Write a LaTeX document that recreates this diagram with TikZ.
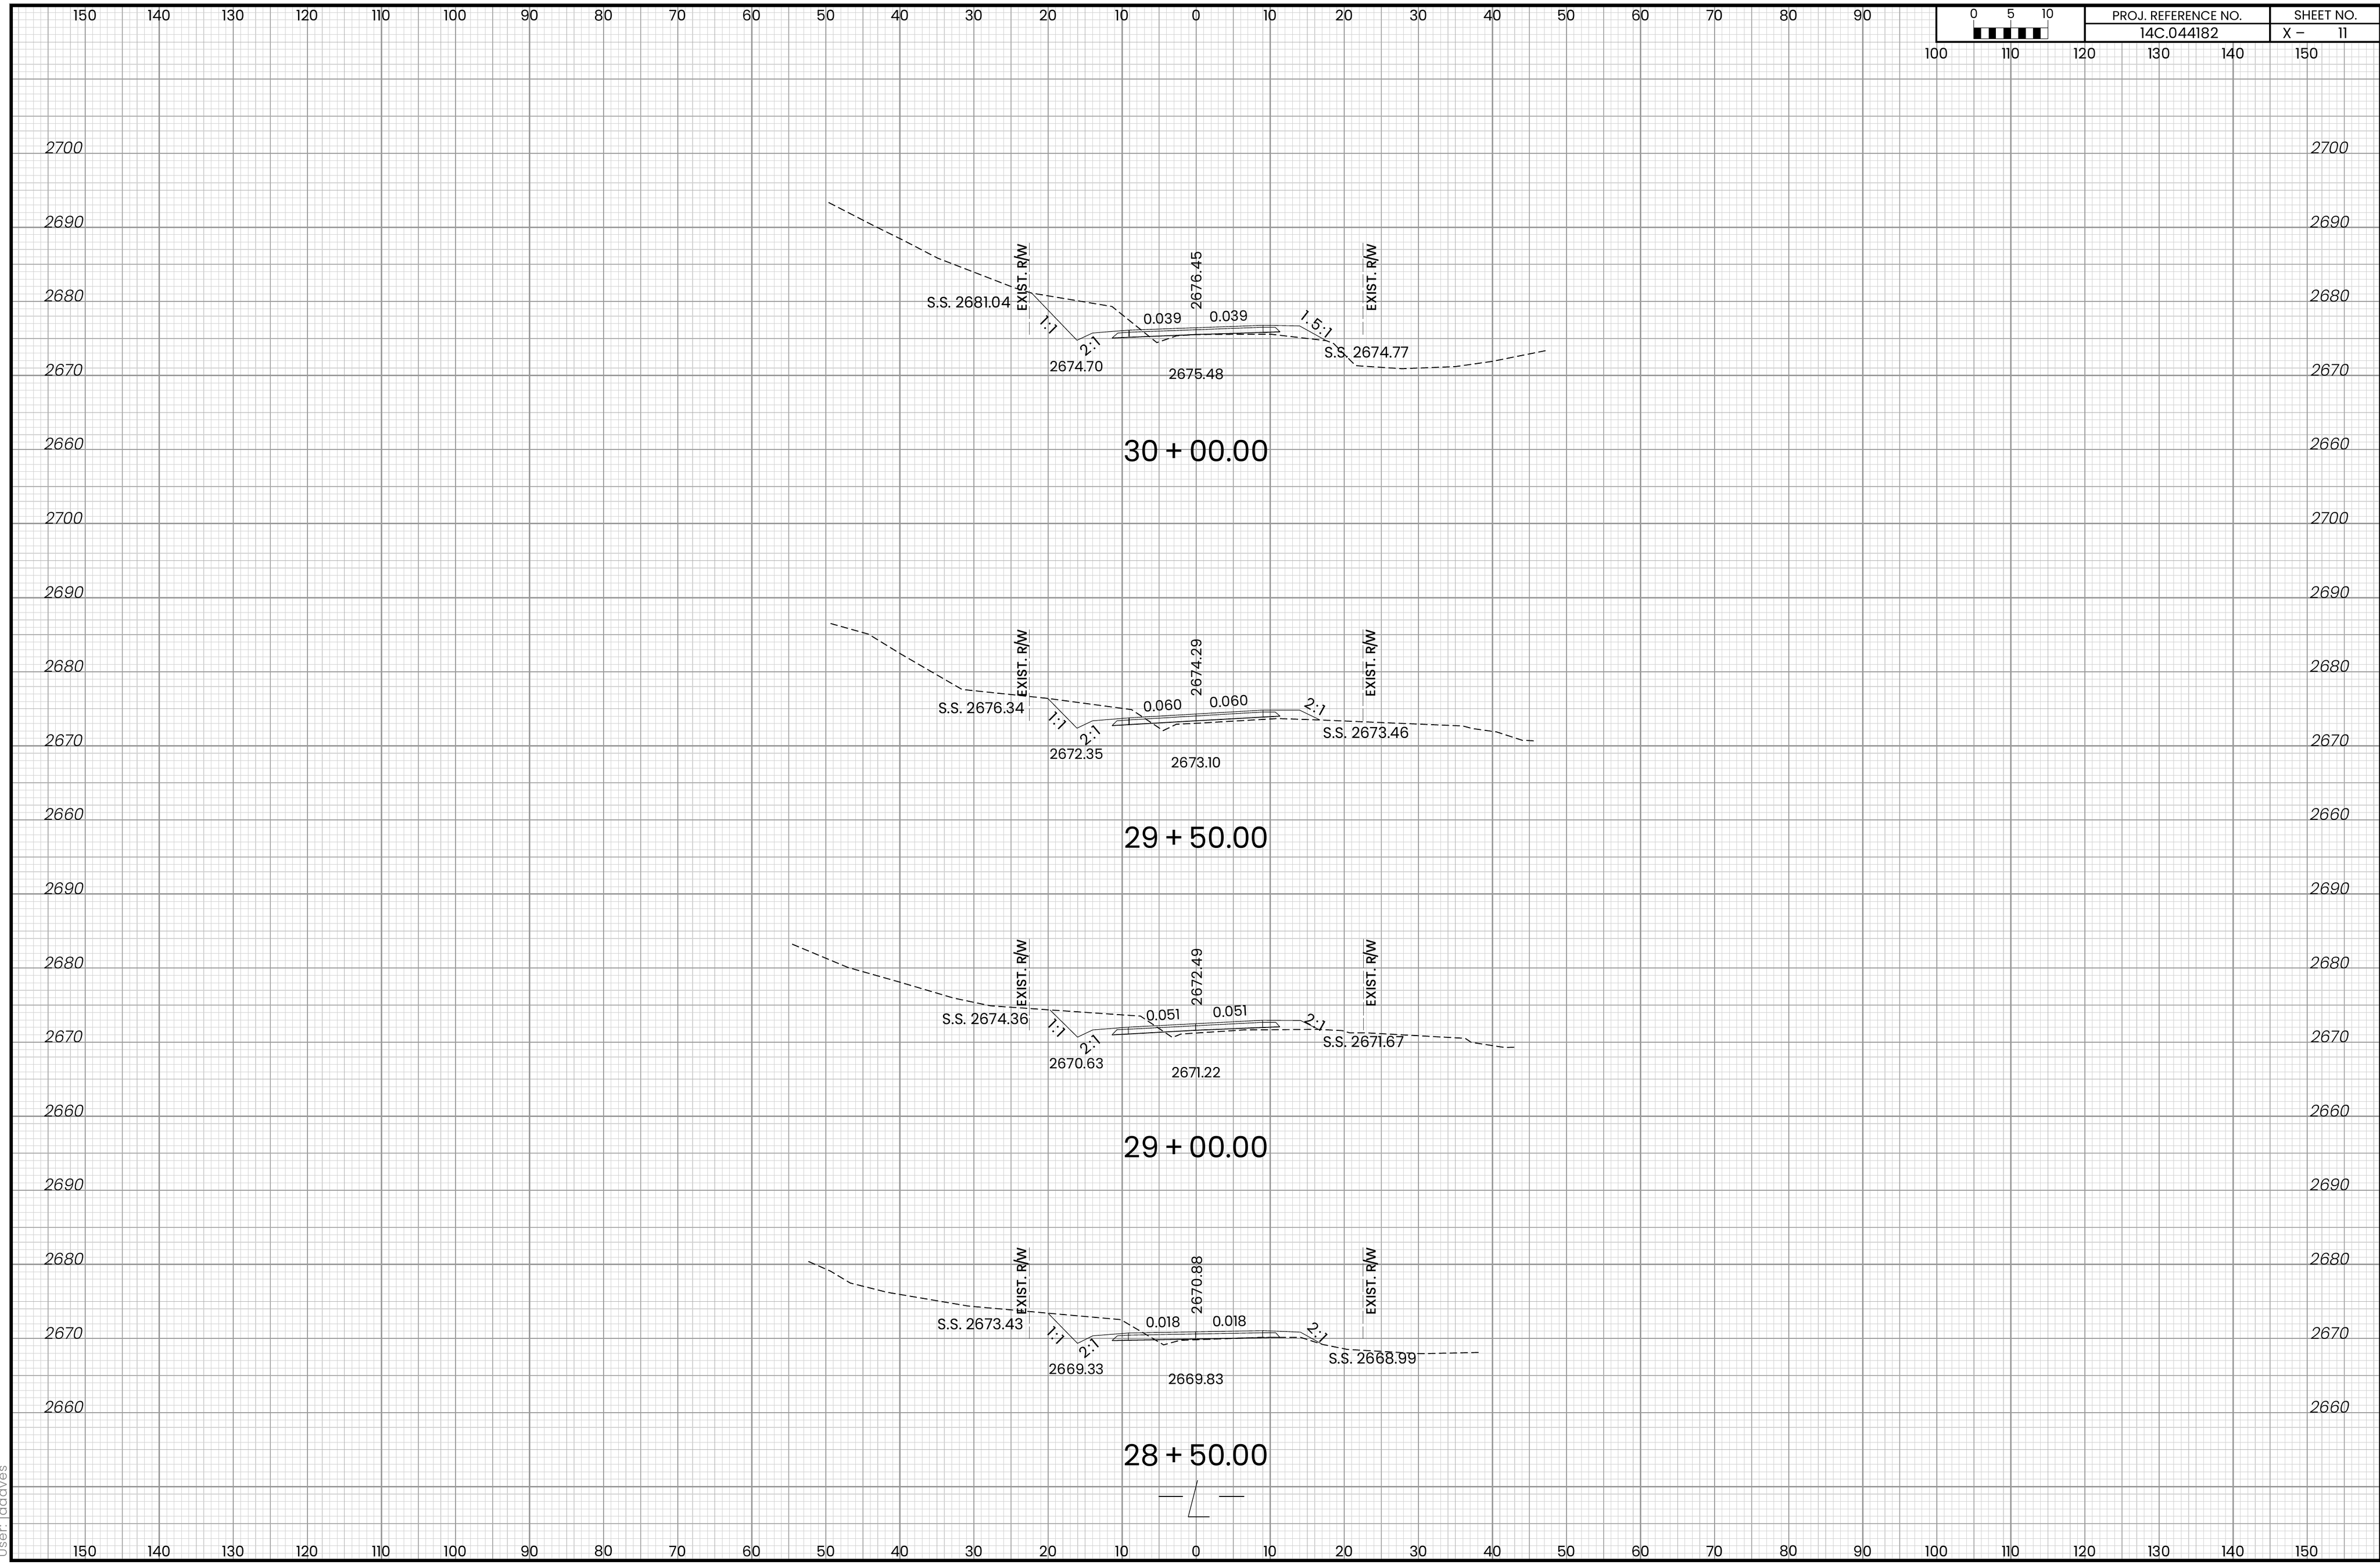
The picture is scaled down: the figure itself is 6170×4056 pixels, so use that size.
\documentclass[tikz,border=0pt]{standalone}
\usepackage{fontspec}
\setmainfont{Poppins}
\newfontfamily\spacedfont{Poppins Medium}
\newfontfamily\elevfont[LetterSpace=4]{Poppins}
\newfontfamily\lightit[FakeSlant=0.2]{Poppins Light}
\newfontfamily\lightfont[LetterSpace=5]{Poppins Light}
\newfontfamily\slopefont[LetterSpace=14]{Poppins}
\newcommand{\rwtext}{EXIST.\ R\kern-0.5pt/\kern-0.5pt W}
\tikzset{
  minorgrid/.style={draw=black!18,line width=0.14pt},
  medgrid/.style={draw=black!33,line width=0.2pt},
  thickgrid/.style={draw=black!40,line width=0.3pt},
  frameline/.style={draw=black,line width=0.9pt},
  blockline/.style={draw=black,line width=0.45pt},
  ground/.style={draw=black,line width=0.24pt,dash pattern=on 1.9pt off 0.9pt},
  proposed/.style={draw=black,line width=0.14pt,line join=round},
  pavebase/.style={draw=black,line width=0.22pt},
  rwline/.style={draw=black!70,line width=0.1pt,dash pattern=on 3.4pt off 0.7pt},
  axislbl/.style={inner sep=0pt,font=\fontsize{3.8}{4}\selectfont},
  elevlbl/.style={inner sep=0pt,font=\lightit\fontsize{4.2}{5}\selectfont,anchor=base},
  dimlbl/.style={inner sep=0pt,font=\fontsize{3.7}{4}\selectfont},
  sslbl/.style={inner sep=0pt,font=\fontsize{3.95}{4}\selectfont},
  slopelbl/.style={inner sep=0pt,font=\slopefont\fontsize{3.9}{4}\selectfont},
  rwlbl/.style={inner sep=0pt,rotate=90,font=\spacedfont\fontsize{3.5}{4}\selectfont},
  cllbl/.style={inner sep=0pt,rotate=90,font=\elevfont\fontsize{3.7}{4}\selectfont},
  stalbl/.style={inner sep=0pt,font=\fontsize{7.6}{9}\selectfont},
  blocklbl/.style={inner sep=0pt,font=\fontsize{3.3}{4}\selectfont},
  blockbig/.style={inner sep=0pt,font=\fontsize{3.8}{4}\selectfont},
}
\begin{document}
\begin{tikzpicture}[x=0.1pt,y=-0.1pt]
\useasboundingbox (0,0) rectangle (6170,4056);
% --- grid
\begin{scope}
\clip (29,13) rectangle (6168,4045);
\foreach \k in {1,...,210}{\draw[minorgrid] (29,{13+19.2*\k}) -- (6170,{13+19.2*\k});}
\foreach \i in {-160,...,160}{\draw[minorgrid] ({3101+19.2*\i},13) -- ({3101+19.2*\i},4045);}
\foreach \k in {0,10,...,210}{\draw[medgrid] (29,{13+19.2*(\k+5)}) -- (6170,{13+19.2*(\k+5)});}
\foreach \i in {-155,-145,...,155}{\draw[medgrid] ({3101+19.2*\i},13) -- ({3101+19.2*\i},4045);}
\foreach \k in {0,10,...,210}{\draw[thickgrid] (29,{13+19.2*\k}) -- (6170,{13+19.2*\k});}
\foreach \i in {-160,-150,...,160}{\draw[thickgrid] ({3101+19.2*\i},13) -- ({3101+19.2*\i},4045);}
\end{scope}
% --- frame
\draw[frameline] (6170,4044.5) -- (29,4044.5) -- (29,13.5) -- (6170,13.5);
\fill[black] (6168,9) rectangle (6170,4049);
\draw[draw=black!40,line width=0.08pt] (24,8.5) -- (6170,8.5);
% --- top and bottom axis numbers
\foreach \v/\u in {150/-150,140/-140,130/-130,120/-120,110/-110,100/-100,90/-90,80/-80,70/-70,60/-60,50/-50,40/-40,30/-30,20/-20,10/-10,0/0,10/10,20/20,30/30,40/40,50/50,60/60,70/70,80/80,90/90}
  {\node[axislbl] (top\u) at ({3101+19.2*\u},40) {\v};}
\foreach \v/\u in {100/100,110/110,120/120,130/130,140/140,150/150}
  {\node[axislbl] (top\u) at ({3101+19.2*\u},138) {\v};}
\foreach \v/\u in {150/-150,140/-140,130/-130,120/-120,110/-110,100/-100,90/-90,80/-80,70/-70,60/-60,50/-50,40/-40,30/-30,20/-20,10/-10,0/0,10/10,20/20,30/30,40/40,50/50,60/60,70/70,80/80,90/90,100/100,110/110,120/120,130/130,140/140,150/150}
  {\node[axislbl] (bot\u) at ({3101+19.2*\u},4020) {\v};}
% --- elevation numbers
\foreach \v/\y in {2700/397,2690/589,2680/781,2670/973,2660/1165,2700/1357,2690/1549,2680/1741,2670/1933,2660/2125,2690/2317,2680/2509,2670/2701,2660/2893,2690/3085,2680/3277,2670/3469,2660/3661}{
  \node[elevlbl] (l\y) at (164,\y+1) {\v};
  \node[elevlbl] (r\y) at (6038,\y+1) {\v};
}
% --- title block
\fill[white] (5019.5,18) rectangle (6168,108);
\draw[blockline] (5019.5,13) -- (5019.5,108.5) -- (6168,108.5);
\draw[blockline] (5405,13) -- (5405,108.5);
\draw[blockline] (5885,13) -- (5885,108.5);
\draw[blockline] (5405,61) -- (6168,61);
\node[blocklbl] (s0) at (5117,36) {0};
\node[blocklbl] (s5) at (5213,36) {5};
\node[blocklbl] (s10) at (5309,36) {10};
\draw[proposed,line width=0.1pt] (5117,52) -- (5117,100) (5213,52) -- (5213,100) (5309,52) -- (5309,100);
\draw[proposed,line width=0.1pt] (5117,72) rectangle (5309,100);
\foreach \c in {0,2,4,6,8}{\fill[black] ({5117+19.2*\c},72) rectangle ({5117+19.2*(\c+1)},100);}
\node[blocklbl] (projhead) at (5644,41) {PROJ. REFERENCE NO.};
\node[blocklbl,font=\fontsize{3.4}{4}\selectfont] (sheethead) at (6029,39) {SHEET NO.};
\node[blockbig] (projno) at (5650,86) {14C.044182};
\node[blockbig,anchor=west] (sheetx) at (5915,86) {X --};
\node[blockbig,anchor=west] (sheetno) at (6060,86) {11};
% --- user stamp
\node[inner sep=0pt,rotate=90,text=black!50,font=\lightfont\fontsize{3.3}{4}\selectfont] (user) at (10,3917) {User: jddaves};
% ================ Section 30+00
\begin{scope}[shift={(2100,480)},xscale=1/0.792,yscale=1/2.01]
\draw[ground] (38,90) -- (130,210) -- (190,285) -- (262,380) -- (420,535) -- (455,562) -- (620,632) -- (712,820) -- (752,785) -- (790,778) -- (945,776) -- (1060,810) -- (1075,825) -- (1120,940) -- (1215,956) -- (1325,945) -- (1400,918) -- (1510,862);
\draw[proposed] (455,562) -- (548,808) -- (580,770) -- (655,755) -- (930,730) -- (1005,733) -- (1060,810);
\draw[pavebase] (620,796) -- (792,778) -- (965,764);
\draw[proposed] (620,796) -- (632,770) -- (655,766) -- (930,740) -- (955,740) -- (965,764);
\draw[proposed] (655,755) -- (655,790) (792,745) -- (792,778) (930,730) -- (930,765);
\draw[rwline] (450,300) -- (450,778) (1135,300) -- (1135,778);
\node[rwlbl] (a1) at (435,480) {\rwtext};
\node[rwlbl] (a2) at (1152,480) {\rwtext};
\node[cllbl] (a3) at (793,497) {2676.45};
\node[sslbl] (a4) at (326,610) {S.S. 2681.04};
\node[sslbl] (a5) at (1143,870) {S.S. 2674.77};
\node[dimlbl] (a6) at (547,945) {2674.70};
\node[dimlbl] (a7) at (793,985) {2675.48};
\node[dimlbl,rotate=2] (a8) at (724,695) {0.039};
\node[dimlbl,rotate=2] (a9) at (860,682) {0.039};
\node[slopelbl,rotate=-45] (a10) at (490,728) {1:1};
\node[slopelbl,rotate=40] (a11) at (575,838) {2:1};
\node[slopelbl,rotate=-38] (a12) at (1040,725) {1.5:1};
\node[stalbl] (a13) at (793,1385) {30\,+\,00.00};
\end{scope}
% ================ Section 29+50
\begin{scope}[shift={(2100,1540)},xscale=1/0.792,yscale=1/2.24]
\draw[ground] (42,170) -- (120,232) -- (185,345) -- (312,553) -- (488,605) -- (660,670) -- (725,792) -- (752,755) -- (790,750) -- (960,722) -- (1045,730) -- (1340,765) -- (1360,780) -- (1410,800) -- (1462,848) -- (1486,851);
\draw[proposed] (488,605) -- (548,778) -- (580,735) -- (655,718) -- (930,673) -- (1005,673) -- (1047,730);
\draw[pavebase] (620,763) -- (792,735) -- (965,708);
\draw[proposed] (620,763) -- (630,735) -- (655,730) -- (930,684) -- (955,684) -- (965,708);
\draw[proposed] (655,718) -- (655,758) (792,695) -- (792,735) (930,673) -- (930,710);
\draw[rwline] (450,205) -- (450,735) (1135,205) -- (1135,735);
\node[rwlbl] (b1) at (435,400) {\rwtext};
\node[rwlbl] (b2) at (1150,400) {\rwtext};
\node[cllbl] (b3) at (793,425) {2674.29};
\node[sslbl] (b4) at (352,660) {S.S. 2676.34};
\node[sslbl] (b5) at (1142,805) {S.S. 2673.46};
\node[dimlbl] (b6) at (547,928) {2672.35};
\node[dimlbl] (b7) at (793,976) {2673.10};
\node[dimlbl,rotate=3] (b8) at (724,647) {0.060};
\node[dimlbl,rotate=3] (b9) at (860,622) {0.060};
\node[slopelbl,rotate=-45] (b10) at (508,735) {1:1};
\node[slopelbl,rotate=40] (b11) at (575,820) {2:1};
\node[slopelbl,rotate=-29] (b12) at (1037,652) {2:1};
\node[stalbl] (b13) at (793,1412) {29\,+\,50.00};
\end{scope}
% ================ Section 29+00
\begin{scope}[shift={(2000,2380)},xscale=1/0.784,yscale=1/2.24]
\draw[ground] (42,150) -- (155,285) -- (260,370) -- (370,463) -- (445,508) -- (566,532) -- (750,568) -- (815,692) -- (832,672) -- (960,648) -- (1110,645) -- (1160,652) -- (1175,665) -- (1210,665) -- (1410,697) -- (1422,720) -- (1490,750) -- (1515,748);
\draw[proposed] (566,532) -- (622,690) -- (653,648) -- (725,632) -- (998,592) -- (1075,593) -- (1112,645);
\draw[pavebase] (692,677) -- (862,650) -- (1033,630);
\draw[proposed] (692,677) -- (702,647) -- (725,644) -- (998,604) -- (1025,604) -- (1033,630);
\draw[proposed] (725,632) -- (725,672) (862,612) -- (862,650) (998,592) -- (998,632);
\draw[rwline] (524,120) -- (524,650) (1203,120) -- (1203,650);
\node[rwlbl] (c1) at (508,318) {\rwtext};
\node[rwlbl] (c2) at (1218,318) {\rwtext};
\node[cllbl] (c3) at (865,340) {2672.49};
\node[sslbl] (c4) at (435,583) {S.S. 2674.36};
\node[sslbl] (c5) at (1203,716) {S.S. 2671.67};
\node[dimlbl] (c6) at (620,842) {2670.63};
\node[dimlbl] (c7) at (863,896) {2671.22};
\node[dimlbl,rotate=3] (c8) at (796,562) {0.051};
\node[dimlbl,rotate=3] (c9) at (932,541) {0.051};
\node[slopelbl,rotate=-45] (c10) at (580,638) {1:1};
\node[slopelbl,rotate=40] (c11) at (647,733) {2:1};
\node[slopelbl,rotate=-29] (c12) at (1105,603) {2:1};
\node[stalbl] (c13) at (863,1327) {29\,+\,00.00};
\end{scope}
% ================ Section 28+50
\begin{scope}[shift={(2000,3180)},xscale=1/0.784,yscale=1/1.79]
\draw[ground] (75,160) -- (120,205) -- (160,260) -- (235,303) -- (400,367) -- (562,400) -- (710,430) -- (797,547) -- (830,526) -- (1000,512) -- (1075,512) -- (1120,545) -- (1170,568) -- (1320,588) -- (1440,582);
\draw[proposed] (562,400) -- (622,540) -- (653,505) -- (725,492) -- (1000,481) -- (1075,488) -- (1120,545);
\draw[pavebase] (692,527) -- (862,520) -- (1033,512);
\draw[proposed] (692,527) -- (703,505) -- (725,502) -- (998,491) -- (1025,491) -- (1033,512);
\draw[proposed] (725,492) -- (725,523) (862,488) -- (862,520) (998,481) -- (998,515);
\draw[rwline] (524,95) -- (524,518) (1202,95) -- (1202,518);
\node[rwlbl] (d1) at (508,251) {\rwtext};
\node[rwlbl] (d2) at (1218,251) {\rwtext};
\node[cllbl] (d3) at (865,269) {2670.88};
\node[sslbl] (d4) at (425,451) {S.S. 2673.43};
\node[sslbl] (d5) at (1222,610) {S.S. 2668.99};
\node[dimlbl] (d6) at (620,660) {2669.33};
\node[dimlbl] (d7) at (863,707) {2669.83};
\node[dimlbl,rotate=1] (d8) at (796,442) {0.018};
\node[dimlbl,rotate=1] (d9) at (931,437) {0.018};
\node[slopelbl,rotate=-45] (d10) at (578,503) {1:1};
\node[slopelbl,rotate=40] (d11) at (645,563) {2:1};
\node[slopelbl,rotate=-45] (d12) at (1110,488) {2:1};
\node[stalbl] (d13) at (863,1058) {28\,+\,50.00};
\draw[proposed,line width=0.16pt] (866,1175) -- (847,1345) -- (890,1345);
\draw[proposed,line width=0.22pt] (787,1250) -- (836,1250) (910,1250) -- (961,1250);
\end{scope}
\end{tikzpicture}
\end{document}
